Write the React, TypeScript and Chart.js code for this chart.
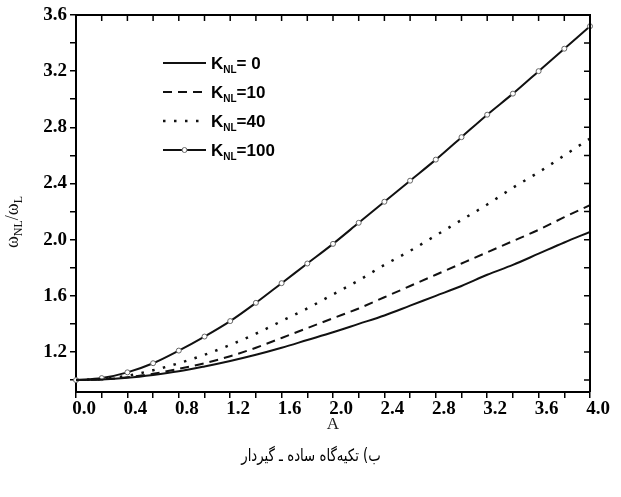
import React, { useEffect, useRef } from "react";
import { Chart, registerables } from "chart.js";
Chart.register(...registerables);

// ---- data ----
const aValues = [0, 0.2, 0.4, 0.6, 0.8, 1.0, 1.2, 1.4, 1.6, 1.8, 2.0, 2.2, 2.4, 2.6, 2.8, 3.0, 3.2, 3.4, 3.6, 3.8, 4.0];
const kNL0 = [1.0, 1.004, 1.016, 1.036, 1.062, 1.097, 1.136, 1.18, 1.23, 1.285, 1.34, 1.4, 1.46, 1.53, 1.6, 1.67, 1.75, 1.82, 1.9, 1.98, 2.055];
const kNL10 = [1.0, 1.005, 1.02, 1.045, 1.08, 1.12, 1.17, 1.23, 1.3, 1.37, 1.44, 1.51, 1.59, 1.67, 1.75, 1.83, 1.91, 1.99, 2.07, 2.16, 2.245];
const kNL40 = [1.0, 1.008, 1.031, 1.07, 1.12, 1.18, 1.25, 1.33, 1.42, 1.51, 1.61, 1.71, 1.82, 1.92, 2.03, 2.14, 2.25, 2.37, 2.48, 2.6, 2.72];
const kNL100 = [1.0, 1.014, 1.055, 1.12, 1.21, 1.31, 1.42, 1.55, 1.69, 1.83, 1.97, 2.12, 2.27, 2.42, 2.57, 2.73, 2.89, 3.04, 3.2, 3.36, 3.52];
const legendSuffixes = ["= 0", "=10", "=40", "=100"];
const xTickValues = [0, 0.2, 0.4, 0.6, 0.8, 1.0, 1.2, 1.4, 1.6, 1.8, 2.0, 2.2, 2.4, 2.6, 2.8, 3.0, 3.2, 3.4, 3.6, 3.8, 4.0];
const xLabelValues = [0, 0.4, 0.8, 1.2, 1.6, 2.0, 2.4, 2.8, 3.2, 3.6, 4.0];
const yTickValues = [1.0, 1.2, 1.4, 1.6, 1.8, 2.0, 2.2, 2.4, 2.6, 2.8, 3.0, 3.2, 3.4, 3.6];
const yLabelValues = [1.2, 1.6, 2.0, 2.4, 2.8, 3.2, 3.6];
const xTitle = "A";
const caption = "ب) تکیه‌گاه ساده ـ گیردار";

const labelFor = (v: number, list: number[]) =>
  list.some((l) => Math.abs(l - v) < 1e-6) ? v.toFixed(1) : "";

const toPoints = (ys: number[]) => aValues.map((a, i) => ({ x: a, y: ys[i] }));

const framePlugin = {
  id: "frameTicks",
  afterDraw(chart: any) {
    const { ctx, chartArea: ca, scales } = chart;
    ctx.save();
    ctx.strokeStyle = "#000";
    ctx.lineWidth = 2;
    ctx.beginPath();
    ctx.moveTo(ca.left, ca.top);
    ctx.lineTo(ca.right, ca.top);
    ctx.lineTo(ca.right, ca.bottom);
    ctx.stroke();
    ctx.lineWidth = 1.5;
    ctx.beginPath();
    xTickValues.forEach((v) => {
      const px = scales.x.getPixelForValue(v);
      ctx.moveTo(px, ca.top);
      ctx.lineTo(px, ca.top + 6);
    });
    yTickValues.forEach((v) => {
      const py = scales.y.getPixelForValue(v);
      ctx.moveTo(ca.right, py);
      ctx.lineTo(ca.right - 6, py);
    });
    ctx.stroke();
    ctx.restore();
  },
};

const legendPlugin = {
  id: "subLegend",
  afterDraw(chart: any) {
    const { ctx, chartArea: ca } = chart;
    ctx.save();
    chart.data.datasets.forEach((ds: any, i: number) => {
      const y = ca.top + 48 + i * 29;
      const x0 = ca.left + 87;
      const x1 = x0 + 43;
      ctx.strokeStyle = ds.borderColor;
      ctx.lineWidth = ds.borderWidth;
      ctx.setLineDash(ds.borderDash || []);
      ctx.beginPath();
      ctx.moveTo(x0, y);
      ctx.lineTo(x1, y);
      ctx.stroke();
      ctx.setLineDash([]);
      if (ds.pointRadius > 0) {
        ctx.beginPath();
        ctx.fillStyle = ds.pointBackgroundColor;
        ctx.strokeStyle = ds.pointBorderColor;
        ctx.lineWidth = ds.pointBorderWidth;
        ctx.arc((x0 + x1) / 2, y, ds.pointRadius, 0, Math.PI * 2);
        ctx.fill();
        ctx.stroke();
      }
      ctx.fillStyle = "#000";
      ctx.textBaseline = "alphabetic";
      ctx.textAlign = "left";
      let tx = x1 + 5;
      const base = y + 6;
      ctx.font = "bold 17px 'Liberation Sans'";
      ctx.fillText("K", tx, base);
      tx += ctx.measureText("K").width;
      ctx.font = "bold 10px 'Liberation Sans'";
      ctx.fillText("NL", tx, base + 4);
      tx += ctx.measureText("NL").width;
      ctx.font = "bold 17px 'Liberation Sans'";
      ctx.fillText(legendSuffixes[i], tx, base);
    });
    ctx.restore();
  },
};

const textPlugin = {
  id: "extraText",
  afterDraw(chart: any) {
    const { ctx } = chart;
    ctx.save();
    // y-axis title with subscripts
    const parts: [string, boolean][] = [["ω", false], ["NL", true], ["/ω", false], ["L", true]];
    const mainFont = "18px 'Liberation Serif'";
    const subFont = "12px 'Liberation Serif'";
    let total = 0;
    parts.forEach(([t, sub]) => {
      ctx.font = sub ? subFont : mainFont;
      total += ctx.measureText(t).width;
    });
    ctx.translate(18, 222);
    ctx.rotate(-Math.PI / 2);
    ctx.fillStyle = "#111";
    ctx.textBaseline = "alphabetic";
    ctx.textAlign = "left";
    let tx = -total / 2;
    parts.forEach(([t, sub]) => {
      ctx.font = sub ? subFont : mainFont;
      ctx.fillText(t, tx, sub ? 4 : 0);
      tx += ctx.measureText(t).width;
    });
    ctx.restore();

    // caption
    ctx.save();
    ctx.translate(311, 457);
    ctx.scale(0.78, 1);
    ctx.font = "17px 'DejaVu Sans'";
    ctx.fillStyle = "#000";
    ctx.textAlign = "center";
    ctx.textBaseline = "middle";
    (ctx as any).direction = "rtl";
    ctx.fillText(caption, 0, 0);
    ctx.restore();
  },
};

export default function App() {
  const ref = useRef<HTMLCanvasElement | null>(null);
  useEffect(() => {
    document.body.style.margin = "0";
    if (!ref.current) return;
    const tickFont = { family: "'Liberation Serif'", weight: "bold" as const, size: 19 };
    const chart = new Chart(ref.current, {
      type: "line",
      data: {
        datasets: [
          { label: "K_NL=0", data: toPoints(kNL0), borderColor: "#111", borderWidth: 2, pointRadius: 0, cubicInterpolationMode: "monotone" },
          { label: "K_NL=10", data: toPoints(kNL10), borderColor: "#111", borderWidth: 2, borderDash: [9, 6], pointRadius: 0, cubicInterpolationMode: "monotone" },
          { label: "K_NL=40", data: toPoints(kNL40), borderColor: "#111", borderWidth: 2.5, borderDash: [2.5, 8.5], pointRadius: 0, cubicInterpolationMode: "monotone" },
          {
            label: "K_NL=100", data: toPoints(kNL100), borderColor: "#111", borderWidth: 2,
            pointRadius: 2.5, pointBackgroundColor: "#fff", pointBorderColor: "#666", pointBorderWidth: 1,
            cubicInterpolationMode: "monotone", clip: 5,
          },
        ] as any,
      },
      options: {
        animation: false,
        responsive: false,
        layout: { padding: { top: 15, right: 31, left: 0, bottom: 0 } },
        plugins: { legend: { display: false }, tooltip: { enabled: false }, title: { display: false } },
        scales: {
          x: {
            type: "linear",
            min: 0,
            max: 4,
            afterBuildTicks: (s: any) => { s.ticks = xTickValues.map((v) => ({ value: v })); },
            afterFit: (s: any) => { s.height = 105; },
            ticks: {
              autoSkip: false, maxRotation: 0, minRotation: 0, padding: 0, labelOffset: 8,
              color: "#000", font: tickFont,
              callback: (v: any) => labelFor(Number(v), xLabelValues),
            },
            grid: { display: true, drawOnChartArea: false, drawTicks: true, tickLength: 6, color: "#000", lineWidth: 1.5 },
            border: { display: true, color: "#000", width: 2 },
            title: { display: true, text: xTitle, color: "#222", font: { family: "'Liberation Serif'", size: 17 }, padding: { top: 0, bottom: 62 } },
          },
          y: {
            type: "linear",
            min: 0.915,
            max: 3.6,
            afterBuildTicks: (s: any) => { s.ticks = yTickValues.map((v) => ({ value: v })); },
            afterFit: (s: any) => { s.width = 76; },
            ticks: {
              autoSkip: false, padding: 3, color: "#000", font: tickFont,
              callback: (v: any) => labelFor(Number(v), yLabelValues),
            },
            grid: { display: true, drawOnChartArea: false, drawTicks: true, tickLength: 6, color: "#000", lineWidth: 1.5 },
            border: { display: true, color: "#000", width: 2 },
          },
        },
      } as any,
      plugins: [framePlugin, legendPlugin, textPlugin],
    });
    return () => chart.destroy();
  }, []);
  return (
    <div style={{ width: 621, height: 497 }}>
      <canvas ref={ref} width={621} height={497} style={{ display: "block" }} />
    </div>
  );
}
